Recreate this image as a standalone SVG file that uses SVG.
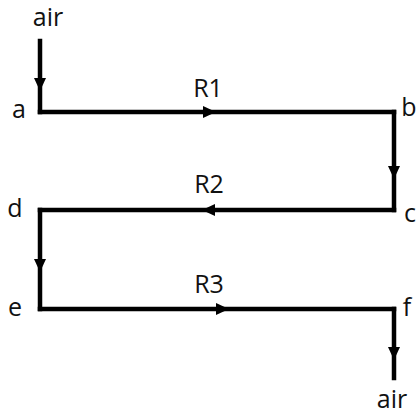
<svg xmlns="http://www.w3.org/2000/svg" width="417" height="416" viewBox="0 0 417 416">
<style>
text{font-family:"Open Sans","Liberation Sans",sans-serif;font-size:25px;fill:#111;text-anchor:middle}
.ln{stroke:#000;stroke-width:4.5;fill:none;stroke-linecap:square}
.ah{fill:#000}
</style>
<defs>
<path id="ah" d="M0,0 L-13,-6 L-13,6 Z"/>
</defs>
<rect width="417" height="416" fill="#fff"/>
<g id="connectors">
<path class="ln" d="M40,41 V112"/>
<path class="ln" d="M40,112 H394"/>
<path class="ln" d="M394,112 V210"/>
<path class="ln" d="M394,210 H40"/>
<path class="ln" d="M40,210 V309"/>
<path class="ln" d="M40,309 H394"/>
<path class="ln" d="M394,309 V378"/>
<use href="#ah" class="ah" transform="translate(40,91) rotate(90)"/>
<use href="#ah" class="ah" transform="translate(216,112)"/>
<use href="#ah" class="ah" transform="translate(394,179) rotate(90)"/>
<use href="#ah" class="ah" transform="translate(202,210) rotate(180)"/>
<use href="#ah" class="ah" transform="translate(40,272) rotate(90)"/>
<use href="#ah" class="ah" transform="translate(229,309)"/>
<use href="#ah" class="ah" transform="translate(394,360) rotate(90)"/>
<text x="208" y="97">R1</text>
<text x="209" y="193">R2</text>
<text x="209" y="293">R3</text>
</g>
<g id="air-in"><text x="48" y="26">air</text></g>
<g id="a"><text x="19" y="118">a</text></g>
<g id="b"><text x="409" y="116">b</text></g>
<g id="c"><text x="410" y="222">c</text></g>
<g id="d"><text x="15" y="217">d</text></g>
<g id="e"><text x="15" y="316">e</text></g>
<g id="f"><text x="407" y="316">f</text></g>
<g id="air-out"><text x="392" y="408">air</text></g>
</svg>
